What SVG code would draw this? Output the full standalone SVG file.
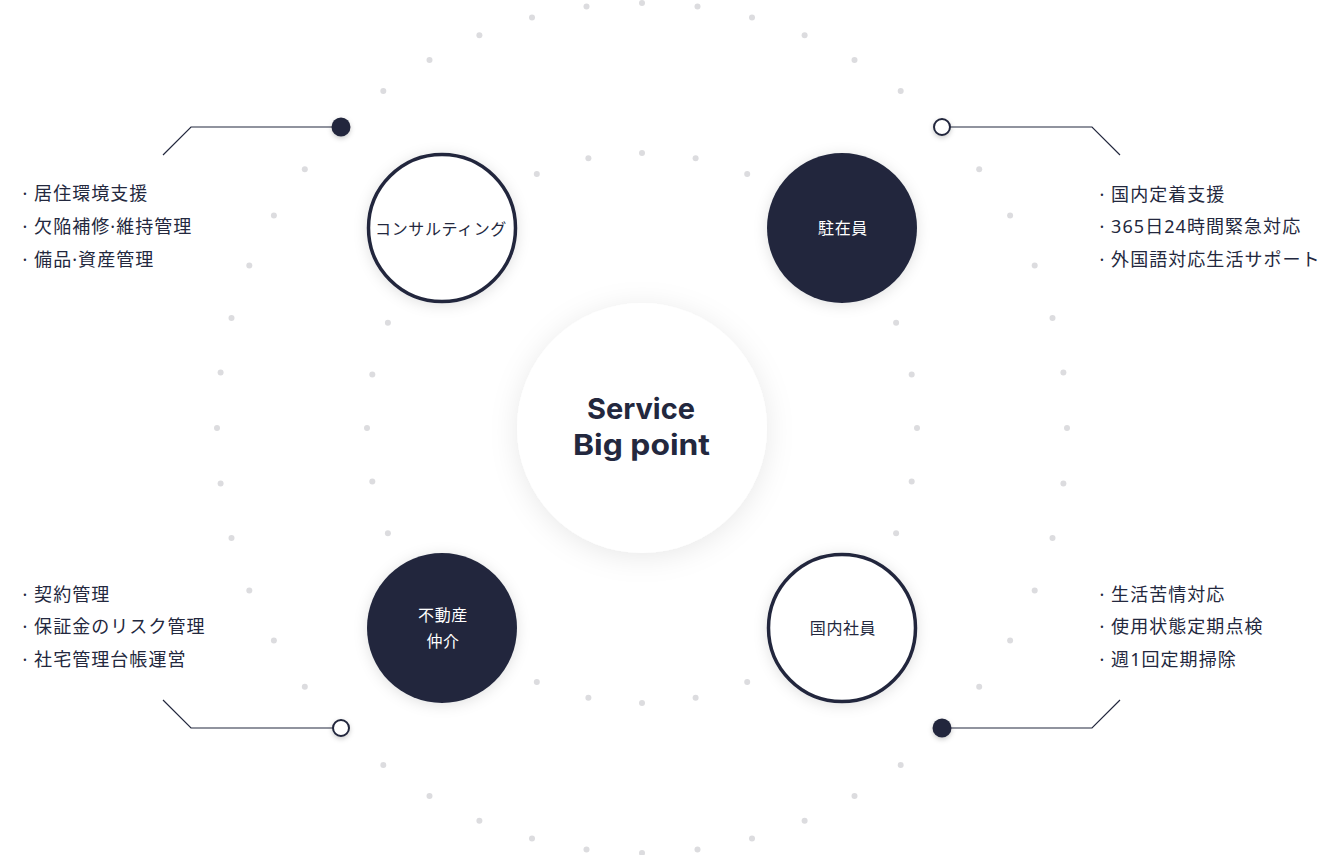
<svg xmlns="http://www.w3.org/2000/svg" width="1319" height="855" viewBox="0 0 1319 855">
<defs>
<style>
.dot{fill:#dcdcdf}
.ln{fill:none;stroke:#23283e;stroke-width:1.2}
.li{font-family:"Noto Sans","Noto Sans CJK JP",sans-serif;font-size:18px;fill:#23283e;letter-spacing:1.05px}
.nl{font-family:"Noto Sans CJK JP","Noto Sans",sans-serif;font-size:16px;letter-spacing:0.6px;text-anchor:middle}
.ct{font-family:Inter,"Liberation Sans",sans-serif;font-weight:700;font-size:29px;fill:#23283e;text-anchor:middle}
</style>
<filter id="bigsh" x="-50%" y="-50%" width="200%" height="200%"><feDropShadow dx="0" dy="4" stdDeviation="14" flood-color="#000" flood-opacity="0.09"/></filter>
<filter id="sh" x="-50%" y="-50%" width="200%" height="200%"><feDropShadow dx="0" dy="2" stdDeviation="7" flood-color="#000" flood-opacity="0.12"/></filter>
<filter id="ssh" x="-100%" y="-100%" width="300%" height="300%"><feDropShadow dx="0" dy="2" stdDeviation="2.5" flood-color="#000" flood-opacity="0.2"/></filter>
</defs>
<rect width="1319" height="855" fill="#fff"/>
<g id="dots">
<circle class="dot" cx="642" cy="3" r="3"/><circle class="dot" cx="697.5" cy="6.6" r="3"/><circle class="dot" cx="752" cy="17.5" r="3"/><circle class="dot" cx="804.6" cy="35.3" r="3"/><circle class="dot" cx="854.5" cy="59.9" r="3"/><circle class="dot" cx="900.7" cy="91.1" r="3"/>
<circle class="dot" cx="979.2" cy="169.3" r="3"/><circle class="dot" cx="1010.1" cy="215.5" r="3"/><circle class="dot" cx="1034.7" cy="265.4" r="3"/><circle class="dot" cx="1052.5" cy="318" r="3"/><circle class="dot" cx="1063.4" cy="372.5" r="3"/><circle class="dot" cx="1067" cy="428" r="3"/>
<circle class="dot" cx="1063.4" cy="483.5" r="3"/><circle class="dot" cx="1052.5" cy="538" r="3"/><circle class="dot" cx="1034.7" cy="590.6" r="3"/><circle class="dot" cx="1010.1" cy="640.5" r="3"/><circle class="dot" cx="979.2" cy="686.7" r="3"/>
<circle class="dot" cx="900.7" cy="764.9" r="3"/><circle class="dot" cx="854.5" cy="796.1" r="3"/><circle class="dot" cx="804.6" cy="820.7" r="3"/><circle class="dot" cx="752" cy="838.5" r="3"/><circle class="dot" cx="697.5" cy="849.4" r="3"/><circle class="dot" cx="642" cy="853" r="3"/>
<circle class="dot" cx="586.5" cy="849.4" r="3"/><circle class="dot" cx="532" cy="838.5" r="3"/><circle class="dot" cx="479.4" cy="820.7" r="3"/><circle class="dot" cx="429.5" cy="796.1" r="3"/><circle class="dot" cx="383.3" cy="764.9" r="3"/>
<circle class="dot" cx="304.8" cy="686.7" r="3"/><circle class="dot" cx="273.9" cy="640.5" r="3"/><circle class="dot" cx="249.3" cy="590.6" r="3"/><circle class="dot" cx="231.5" cy="538" r="3"/><circle class="dot" cx="220.6" cy="483.5" r="3"/><circle class="dot" cx="217" cy="428" r="3"/>
<circle class="dot" cx="220.6" cy="372.5" r="3"/><circle class="dot" cx="231.5" cy="318" r="3"/><circle class="dot" cx="249.3" cy="265.4" r="3"/><circle class="dot" cx="273.9" cy="215.5" r="3"/><circle class="dot" cx="304.8" cy="169.3" r="3"/>
<circle class="dot" cx="383.3" cy="91.1" r="3"/><circle class="dot" cx="429.5" cy="59.9" r="3"/><circle class="dot" cx="479.4" cy="35.3" r="3"/><circle class="dot" cx="532" cy="17.5" r="3"/><circle class="dot" cx="586.5" cy="6.6" r="3"/>
<circle class="dot" cx="642" cy="153" r="3"/><circle class="dot" cx="695.6" cy="158.3" r="3"/><circle class="dot" cx="747.2" cy="173.9" r="3"/>
<circle class="dot" cx="896.1" cy="322.8" r="3"/><circle class="dot" cx="911.7" cy="374.4" r="3"/><circle class="dot" cx="917" cy="428" r="3"/><circle class="dot" cx="911.7" cy="481.6" r="3"/><circle class="dot" cx="896.1" cy="533.2" r="3"/>
<circle class="dot" cx="747.2" cy="682.1" r="3"/><circle class="dot" cx="695.6" cy="697.7" r="3"/><circle class="dot" cx="642" cy="703" r="3"/><circle class="dot" cx="588.4" cy="697.7" r="3"/><circle class="dot" cx="536.8" cy="682.1" r="3"/>
<circle class="dot" cx="387.9" cy="533.2" r="3"/><circle class="dot" cx="372.3" cy="481.6" r="3"/><circle class="dot" cx="367" cy="428" r="3"/><circle class="dot" cx="372.3" cy="374.4" r="3"/><circle class="dot" cx="387.9" cy="322.8" r="3"/>
<circle class="dot" cx="536.8" cy="173.9" r="3"/><circle class="dot" cx="588.4" cy="158.3" r="3"/>
</g>
<g id="connectors">
<polyline class="ln" points="341,127 191,127 163,155"/>
<polyline class="ln" points="942,127 1092,127 1120,155"/>
<polyline class="ln" points="341,728 191,728 163,700"/>
<polyline class="ln" points="942,728 1092,728 1120,700"/>
<circle cx="341" cy="127" r="9.5" fill="#23283e" filter="url(#ssh)"/>
<circle cx="942" cy="127" r="8" fill="#fff" stroke="#23283e" stroke-width="2" filter="url(#ssh)"/>
<circle cx="341" cy="728" r="8" fill="#fff" stroke="#23283e" stroke-width="2" filter="url(#ssh)"/>
<circle cx="942" cy="728" r="9.5" fill="#23283e" filter="url(#ssh)"/>
</g>
<g id="center">
<circle cx="642" cy="428" r="125" fill="#fff" filter="url(#bigsh)"/>
<text class="ct" x="641" y="419" textLength="108" lengthAdjust="spacingAndGlyphs">Service</text>
<text class="ct" x="641.5" y="455" textLength="137" lengthAdjust="spacingAndGlyphs">Big point</text>
</g>
<g id="node-consulting">
<circle cx="442" cy="228" r="73.5" fill="#fff" stroke="#23283e" stroke-width="3.5" filter="url(#sh)"/>
<text class="nl" x="441" y="235" fill="#23283e">コンサルティング</text>
</g>
<g id="node-chuzaiin">
<circle cx="842" cy="228" r="75" fill="#23283e" filter="url(#sh)"/>
<text class="nl" x="843" y="234" fill="#fff">駐在員</text>
</g>
<g id="node-fudosan">
<circle cx="442" cy="628" r="75" fill="#23283e" filter="url(#sh)"/>
<text class="nl" x="443" y="621" fill="#fff">不動産</text>
<text class="nl" x="443" y="647" fill="#fff">仲介</text>
</g>
<g id="node-kokunai">
<circle cx="842" cy="628" r="73.5" fill="#fff" stroke="#23283e" stroke-width="3.5" filter="url(#sh)"/>
<text class="nl" x="843" y="634" fill="#23283e">国内社員</text>
</g>
<g id="list-tl">
<text class="li" x="22.5" y="200">· 居住環境支援</text>
<text class="li" x="22.5" y="233">· 欠陥補修·維持管理</text>
<text class="li" x="22.5" y="266">· 備品·資産管理</text>
</g>
<g id="list-tr">
<text class="li" x="1099.5" y="201">· 国内定着支援</text>
<text class="li" x="1099.5" y="233">· 365日24時間緊急対応</text>
<text class="li" x="1099.5" y="266">· 外国語対応生活サポート</text>
</g>
<g id="list-bl">
<text class="li" x="22.5" y="601">· 契約管理</text>
<text class="li" x="22.5" y="633">· 保証金のリスク管理</text>
<text class="li" x="22.5" y="666">· 社宅管理台帳運営</text>
</g>
<g id="list-br">
<text class="li" x="1099.5" y="601">· 生活苦情対応</text>
<text class="li" x="1099.5" y="633">· 使用状態定期点検</text>
<text class="li" x="1099.5" y="666">· 週1回定期掃除</text>
</g>
</svg>
